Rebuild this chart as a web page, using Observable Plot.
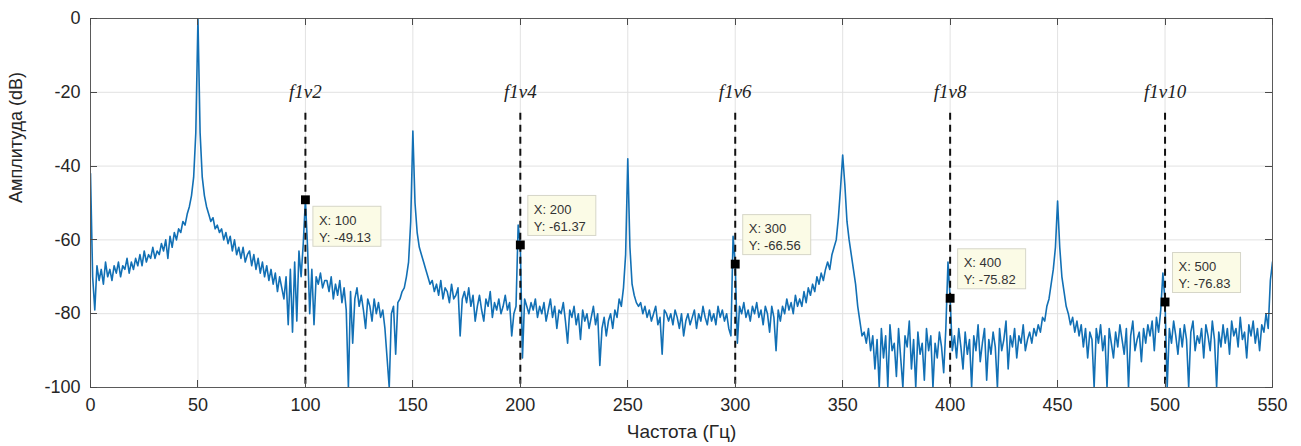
<!DOCTYPE html>
<html><head><meta charset="utf-8">
<script src="https://cdn.jsdelivr.net/npm/d3@7"></script>
<script src="https://cdn.jsdelivr.net/npm/@observablehq/plot@0.6"></script>
<style>body{margin:0;background:#fff;} #chart svg{display:block;}</style>
</head><body><div id="chart"></div>
<script>
// Amplitude spectrum (dB), one value per 1 Hz bin, starting at 0 Hz
const amplitude = [
  -42, -70, -79, -67, -71, -68, -72, -66, -70, -68,
  -71, -67, -69, -66, -70, -67, -68, -65, -69, -66,
  -68, -65, -67, -64, -67, -63, -66, -64, -65, -62,
  -65, -63, -64, -61, -63, -60, -65, -59, -62, -58,
  -60, -57, -58, -55, -56, -53, -51, -48, -43, -31,
  0, -31, -43, -48, -51, -53, -55, -54, -57, -56,
  -58, -57, -60, -58, -61, -59, -63, -60, -64, -62,
  -65, -62, -66, -64, -63, -67, -64, -68, -65, -69,
  -66, -70, -67, -71, -68, -72, -69, -74, -70, -73,
  -76, -70, -83, -68, -85, -66, -82, -63, -70, -61,
  -49.13, -62, -80, -68, -83, -70, -72, -69, -73, -71,
  -71, -74, -70, -76, -72, -75, -71, -77, -73, -79,
  -100, -74, -88, -76, -73, -78, -75, -79, -84, -76,
  -78, -82, -76, -80, -77, -81, -79, -84, -92, -100,
  -80, -78, -91, -77, -76, -74, -73, -70, -66, -55,
  -30.5, -50, -58, -62, -64, -66, -68, -70, -72, -71,
  -74, -72, -75, -71, -76, -73, -74, -77, -72, -76,
  -75, -73, -86, -76, -74, -77, -73, -78, -75, -82,
  -78, -75, -79, -82, -76, -78, -74, -81, -77, -79,
  -76, -80, -78, -75, -79, -77, -86, -80, -78, -56,
  -61.37, -92, -76, -78, -80, -77, -79, -76, -81, -78,
  -80, -77, -82, -79, -76, -81, -78, -84, -79, -80,
  -77, -82, -88, -79, -81, -78, -83, -80, -87, -79,
  -82, -80, -84, -81, -78, -83, -80, -94, -84, -81,
  -86, -82, -80, -84, -79, -81, -76, -78, -73, -64,
  -38, -62, -72, -75, -77, -78, -77, -80, -78, -81,
  -79, -82, -80, -78, -83, -81, -91, -79, -80, -82,
  -80, -83, -79, -81, -84, -80, -86, -82, -80, -83,
  -81, -79, -84, -80, -82, -78, -81, -83, -79, -82,
  -80, -83, -78, -81, -79, -82, -80, -84, -86, -59,
  -66.56, -88, -78, -80, -77, -81, -79, -82, -78, -80,
  -77, -81, -79, -83, -78, -80, -85, -78, -81, -90,
  -79, -82, -78, -80, -76, -79, -77, -80, -75, -78,
  -76, -78, -74, -77, -73, -75, -72, -74, -70, -72,
  -69, -71, -68, -66, -68, -64, -62, -60, -54, -46,
  -37, -45, -55, -60, -64, -68, -72, -78, -82, -86,
  -85, -88, -84, -90, -86, -95, -87, -100, -84, -92,
  -86, -100, -83, -90, -88, -97, -84, -92, -100, -86,
  -89, -82, -95, -87, -100, -85, -91, -88, -98, -84,
  -90, -86, -100, -88, -92, -85, -89, -96, -84, -66,
  -75.82, -90, -86, -92, -84, -89, -95, -85, -91, -87,
  -100, -86, -90, -83, -93, -88, -84, -98, -87, -91,
  -85, -89, -100, -84, -90, -87, -82, -95, -86, -89,
  -84, -92, -86, -88, -83, -90, -87, -85, -88, -84,
  -86, -83, -85, -81, -82, -78, -76, -72, -68, -62,
  -49.5, -62, -70, -74, -78, -80, -83, -81, -85, -82,
  -86, -83, -89, -84, -92, -85, -87, -100, -84, -88,
  -83, -90, -86, -100, -84, -88, -92, -85, -89, -83,
  -87, -91, -84, -100, -86, -82, -90, -87, -85, -93,
  -84, -88, -83, -86, -82, -90, -81, -85, -79, -69,
  -76.83, -100, -84, -88, -82, -86, -91, -84, -89, -83,
  -87, -100, -85, -82, -90, -86, -88, -84, -92, -83,
  -86, -90, -82, -87, -100, -85, -89, -83, -88, -84,
  -91, -82, -86, -84, -89, -81, -87, -85, -92, -83,
  -86, -82, -88, -84, -90, -83, -85, -80, -84, -71,
  -66
];
const xTicks = [0, 50, 100, 150, 200, 250, 300, 350, 400, 450, 500, 550];
const yTicks = [0, -20, -40, -60, -80, -100];
const harmonicFreqs = [100, 200, 300, 400, 500];
const harmonicLabels = ["f1v2", "f1v4", "f1v6", "f1v8", "f1v10"];
const tipX = [100, 200, 300, 400, 500];
const tipY = [-49.13, -61.37, -66.56, -75.82, -76.83];
const tipYText = ["-49.13", "-61.37", "-66.56", "-75.82", "-76.83"];
const xTitle = "Частота (Гц)";
const yTitle = "Амплитуда (dB)";

const spectrum = amplitude.map((a, i) => ({f: i, a}));
const harmonics = harmonicFreqs.map((f, i) => ({f, label: harmonicLabels[i]}));
const tips = tipX.map((x, i) => ({x, y: tipY[i], ty: tipYText[i]}));

const SANS = "'Liberation Sans', Arial, Helvetica, sans-serif";
const TEXT = "#262626";

function innerTicks(index, scales, values, dims) {
  const {width, height, marginLeft, marginRight, marginTop, marginBottom} = dims;
  const L = marginLeft, R = width - marginRight, T = marginTop, B = height - marginBottom;
  const g = d3.create("svg:g").attr("stroke", "#4a4a4a").attr("stroke-width", 1);
  for (const t of xTicks) {
    const px = Math.round(scales.x(t)) + 0.5;
    g.append("line").attr("x1", px).attr("x2", px).attr("y1", B).attr("y2", B - 7);
    g.append("line").attr("x1", px).attr("x2", px).attr("y1", T).attr("y2", T + 7);
  }
  for (const t of yTicks) {
    const py = Math.round(scales.y(t)) + 0.5;
    g.append("line").attr("y1", py).attr("y2", py).attr("x1", L).attr("x2", L + 7);
    g.append("line").attr("y1", py).attr("y2", py).attr("x1", R).attr("x2", R - 7);
  }
  return g.node();
}

function tipBoxes(index, scales, values, dims) {
  const g = d3.create("svg:g").attr("font-family", SANS).attr("font-size", 13)
    .attr("text-anchor", "start");
  tips.forEach((d, i) => {
    const px = scales.x(d.x), py = scales.y(d.y);
    const below = i === 0;
    const bx = px + 8, by = below ? py + 7 : py - 49;
    const w = 68, h = 40;
    g.append("rect").attr("x", bx).attr("y", by).attr("width", w).attr("height", h)
      .attr("fill", "#fbfbe6").attr("stroke", "#d6d6c8").attr("stroke-width", 1);
    g.append("text").attr("x", bx + 6).attr("y", by + 14).attr("dy", "0.35em")
      .attr("text-anchor", "start").attr("fill", "#333").text(`X: ${d.x}`);
    g.append("text").attr("x", bx + 6).attr("y", by + 31).attr("dy", "0.35em")
      .attr("text-anchor", "start").attr("fill", "#333").text(`Y: ${d.ty}`);
  });
  return g.node();
}

const chart = Plot.plot({
  width: 1301,
  height: 446,
  marginLeft: 90,
  marginRight: 29,
  marginTop: 18,
  marginBottom: 59,
  style: {fontFamily: SANS, color: TEXT, background: "#fff"},
  x: {domain: [0, 550], label: null},
  y: {domain: [-100, 0], label: null},
  marks: [
    Plot.gridX(xTicks, {stroke: "#e2e2e2", strokeOpacity: 1}),
    Plot.gridY(yTicks, {stroke: "#e2e2e2", strokeOpacity: 1}),
    Plot.line(spectrum, {x: "f", y: "a", stroke: "#1270b5", strokeWidth: 1.6, clip: true}),
    Plot.ruleX(harmonics, {x: "f", y1: -25.7, y2: -100, stroke: "#111", strokeWidth: 2, strokeDasharray: "7,5"}),
    Plot.text(harmonics, {x: "f", y: -20, text: "label", fontFamily: "'Liberation Serif', 'Times New Roman', serif", fontStyle: "italic", fontSize: 19, fill: "#222"}),
    Plot.dot(tips, {x: "x", y: "y", symbol: "square", r: 5, fill: "#000", stroke: "none"}),
    tipBoxes,
    Plot.frame({stroke: "#5a5a5a", strokeWidth: 1}),
    innerTicks,
    Plot.axisX(xTicks, {anchor: "bottom", tickSize: 0, tickPadding: 11, fontSize: 18, label: null, tickFormat: d => String(d)}),
    Plot.axisY(yTicks, {anchor: "left", tickSize: 0, tickPadding: 10, fontSize: 18, label: null, tickFormat: d => String(d)}),
    Plot.text([xTitle], {text: d => d, frameAnchor: "bottom", dy: 50, fontSize: 19, fill: TEXT}),
    Plot.text([yTitle], {text: d => d, frameAnchor: "left", dx: -74, rotate: -90, fontSize: 18, fill: TEXT})
  ]
});
document.getElementById("chart").append(chart);
</script>
</body></html>
